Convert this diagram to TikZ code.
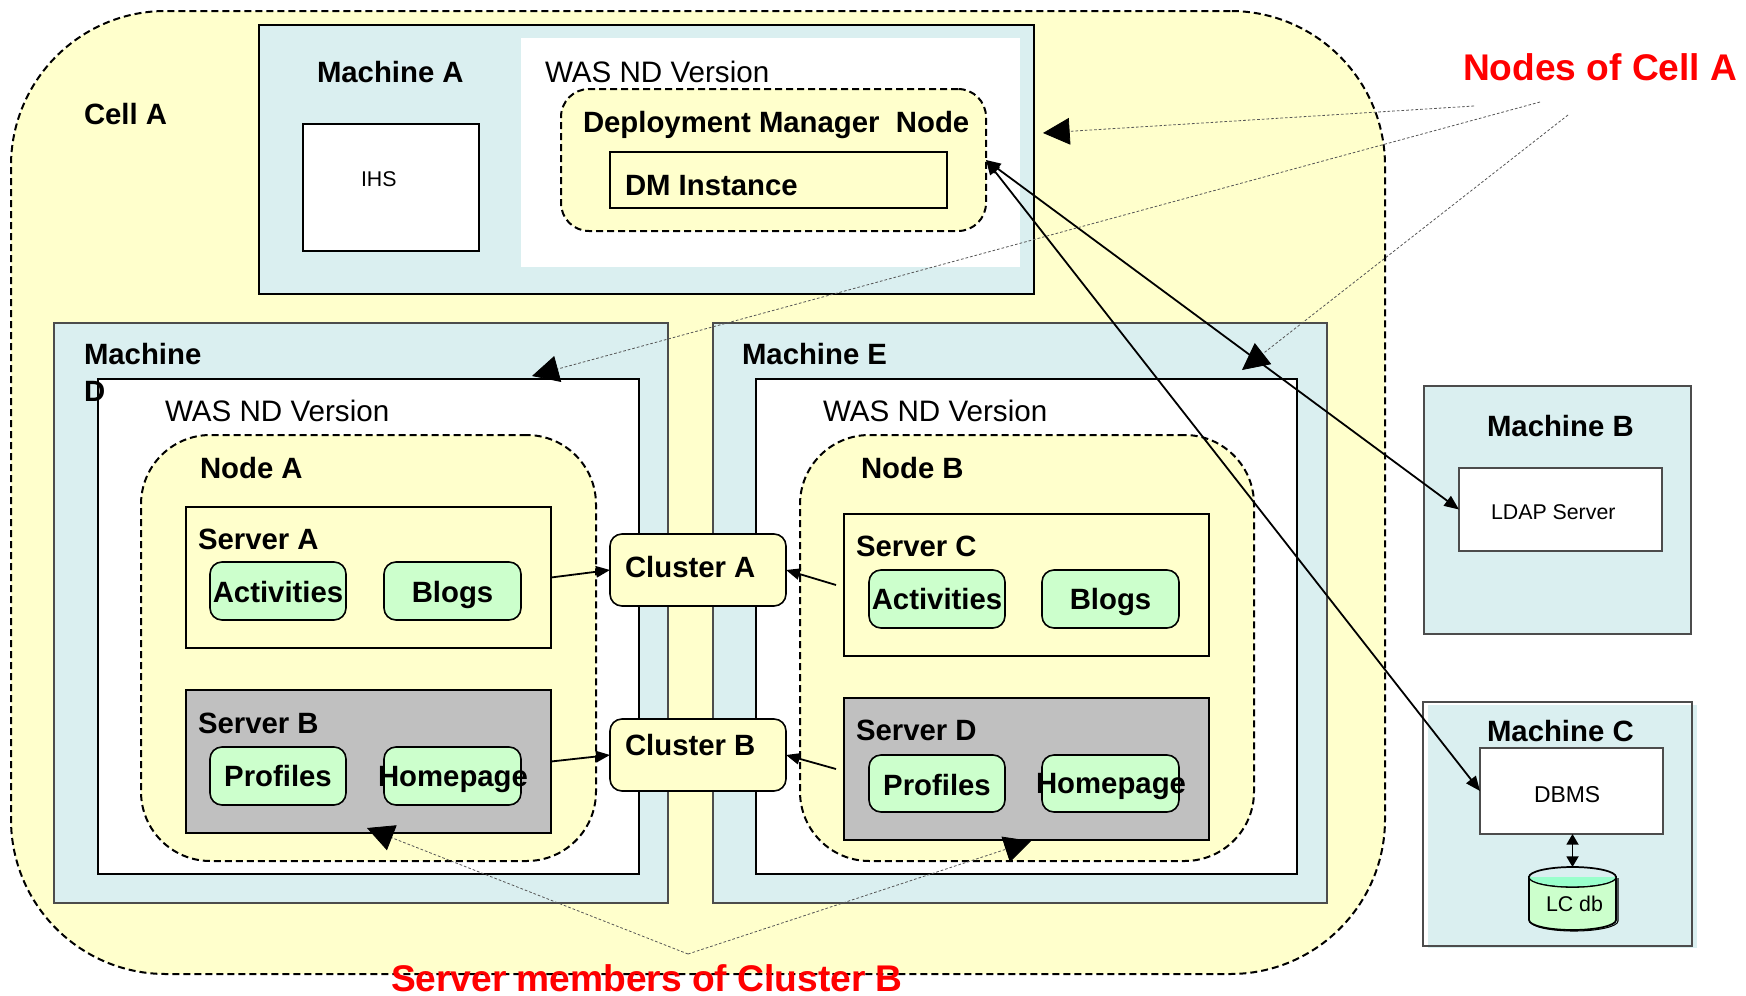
\documentclass[tikz,border=0pt]{standalone}
\usepackage{fontspec}
\setmainfont{Liberation Sans}
\usetikzlibrary{arrows.meta}
\definecolor{cellyellow}{HTML}{FFFFCC}
\definecolor{machblue}{HTML}{DAEFF0}
\definecolor{appgreen}{HTML}{CCFFCC}
\definecolor{srvgray}{HTML}{C0C0C0}
\definecolor{mint}{HTML}{99FFCC}
\definecolor{notegray}{HTML}{555555}
\tikzset{
  x=0.75pt,y=-0.75pt,
  boxbase/.style={rectangle,inner sep=0pt,outer sep=0pt},
  dashedarea/.style={boxbase,draw=black,fill=cellyellow,line width=1.5pt,dash pattern=on 5.25pt off 3pt},
  machthick/.style={boxbase,draw=black,fill=machblue,line width=2pt},
  machthin/.style={boxbase,draw=black!70,fill=machblue,line width=0.9pt},
  whitebox/.style={boxbase,draw=black,fill=white,line width=1.5pt},
  thinwhite/.style={boxbase,draw=black!70,fill=white,line width=0.9pt},
  serverbox/.style={boxbase,draw=black,fill=cellyellow,line width=1.5pt},
  grayserver/.style={boxbase,draw=black,fill=srvgray,line width=1.5pt},
  appbox/.style={boxbase,draw=black,fill=appgreen,line width=1.2pt,rounded corners=9pt,font=\boldtxt,text height=17.6pt,text depth=0pt},
  clusterbox/.style={boxbase,draw=black,fill=cellyellow,line width=1.2pt,rounded corners=9pt},
  bold/.style={anchor=base west,inner sep=0pt,outer sep=0pt,font=\boldtxt},
  plain/.style={anchor=base west,inner sep=0pt,outer sep=0pt,font=\regtxt},
  small/.style={anchor=base west,inner sep=0pt,outer sep=0pt,font=\smalltxt},
  redlabel/.style={anchor=base west,inner sep=0pt,outer sep=0pt,font=\redtxt,text=red},
  link/.style={draw=black,line width=1.35pt,-{Triangle[length=10.5pt,width=8.5pt]}},
  note/.style={draw=notegray,line width=0.6pt,dash pattern=on 2pt off 1.5pt,-{Triangle[length=20pt,width=20pt,color=black]}},
}
\newcommand{\boldtxt}{\fontsize{22}{27.6}\selectfont\bfseries}
\newcommand{\regtxt}{\fontsize{22.2}{27}\selectfont}
\newcommand{\smalltxt}{\fontsize{16}{20}\selectfont}
\newcommand{\redtxt}{\fontsize{27.85}{32}\selectfont\bfseries}
% \areabox{name}{x1}{y1}{x2}{y2}{style}{text}
\newcommand{\areabox}[7]{\node[#6,minimum width={(#4-#2)*0.75pt},minimum height={(#5-#3)*0.75pt}] (#1) at ({(#2+#4)/2},{(#3+#5)/2}) {#7};}
\begin{document}
\begin{tikzpicture}
\useasboundingbox (0,0) rectangle (1746,996);
\areabox{cell}{11}{11}{1385}{974}{dashedarea,rounded corners=116pt}{}
% Machine A
\areabox{machA}{259}{25}{1034}{294}{machthick}{}
\node[boxbase,fill=white,minimum width={499*0.75pt},minimum height={229*0.75pt}] (wasA) at (770.5,152.5) {};
\areabox{ihs}{303}{124}{479}{251}{whitebox}{}
\areabox{dep}{561}{89}{986}{231}{dashedarea,rounded corners=21pt}{}
\areabox{dmi}{610}{152}{947}{208}{serverbox}{}
% Machine D
\areabox{machD}{54}{323}{668}{903}{machthin}{}
\areabox{wasD}{98}{379}{639}{874}{whitebox}{}
\areabox{nodeA}{141}{435}{596}{861}{dashedarea,rounded corners=52pt}{}
\areabox{srvA}{186}{507}{551}{648}{serverbox}{}
\areabox{srvB}{186}{690}{551}{833}{grayserver}{}
\areabox{actA}{210}{562}{346}{620}{appbox}{Activities}
\areabox{blogA}{384}{562}{521}{620}{appbox}{Blogs}
\areabox{profB}{210}{747}{346}{805}{appbox,text height=16.4pt}{Profiles}
\areabox{homeB}{384}{747}{521}{805}{appbox}{}
% Machine E
\areabox{machE}{713}{323}{1327}{903}{machthin}{}
\areabox{wasE}{756}{379}{1297}{874}{whitebox}{}
\areabox{nodeB}{800}{435}{1254}{861}{dashedarea,rounded corners=52pt}{}
\areabox{srvC}{844}{514}{1209}{656}{serverbox}{}
\areabox{srvD}{844}{698}{1209}{840}{grayserver}{}
\areabox{actC}{869}{570}{1005}{628}{appbox,text height=16.4pt}{Activities}
\areabox{blogC}{1042}{570}{1179}{628}{appbox,text height=16.4pt}{Blogs}
\areabox{profD}{869}{755}{1005}{812}{appbox}{Profiles}
\areabox{homeD}{1042}{755}{1179}{812}{appbox}{}
% Clusters
\areabox{clA}{610}{534}{786}{606}{clusterbox}{}
\areabox{clB}{610}{719}{786}{791}{clusterbox}{}
% Machine B
\areabox{machB}{1424}{386}{1691}{634}{machthin}{}
\areabox{ldap}{1459}{468}{1662}{551}{thinwhite}{}
% Machine C
\fill[machblue] (1428,705) rectangle (1697,948);
\areabox{machC}{1423}{702}{1692}{946}{boxbase,draw=black!70,line width=0.9pt}{}
\areabox{dbms}{1480}{748}{1663}{834}{thinwhite}{}
% LC db cylinder
\draw[black,line width=0.8pt] (1530,878) -- (1530,921) arc[start angle=180,end angle=0,x radius=44,y radius=10] -- (1618,878);
\path[fill=appgreen,draw=black,line width=1.3pt] (1529,877) -- (1529,920) arc[start angle=180,end angle=0,x radius=43.5,y radius=10] -- (1616,877) -- cycle;
\path[fill=machblue,draw=black,line width=1.3pt] (1572.5,877) ellipse[x radius=43.5,y radius=10];
\begin{scope}
  \clip (1529,877) rectangle (1616,888);
  \path[fill=mint] (1572.5,877) ellipse[x radius=42.8,y radius=9.3];
\end{scope}
\node[boxbase,minimum width={87*0.75pt},minimum height={63*0.75pt}] (db) at (1572.5,898.5) {};
% Texts
\node[bold] (tCell) at (84,124) {Cell A};
\node[bold] (tMA) at (317,82) {Machine A};
\node[plain] (tWasA) at (545,82) {WAS ND Version};
\node[bold] (tDep) at (583,132) {Deployment Manager\ \ Node};
\node[bold] (tDmi) at (625,195) {DM Instance};
\node[small] (tIhs) at (361,186) {IHS};
\node[bold,anchor=north west,align=left] (tMD) at (84,343) {Machine\\D};
\node[bold] (tME) at (742,364) {Machine E};
\node[plain] (tWasD) at (165,421) {WAS ND Version};
\node[plain] (tWasE) at (823,421) {WAS ND Version};
\node[bold] (tNA) at (200,478) {Node A};
\node[bold] (tNB) at (861,478) {Node B};
\node[bold] (tSA) at (198,549) {Server A};
\node[bold] (tSB) at (198,733) {Server B};
\node[bold] (tSC) at (856,556) {Server C};
\node[bold] (tSD) at (856,740) {Server D};
\node[bold,anchor=base] (tHB) at (453,786) {Homepage};
\node[bold,anchor=base] (tHD) at (1111,793) {Homepage};
\node[bold] (tCA) at (625,577) {Cluster A};
\node[bold] (tCB) at (625,755) {Cluster B};
\node[bold] (tMB) at (1487,436) {Machine B};
\node[small] (tLdap) at (1491,519) {LDAP Server};
\node[bold] (tMC) at (1487,741) {Machine C};
\node[small,font=\fontsize{17.2}{20}\selectfont] (tDbms) at (1534,802) {DBMS};
\node[small] (tLc) at (1546,911) {LC db};
\node[redlabel] (tNodes) at (1463,80) {Nodes of Cell A};
\node[redlabel] (tMembers) at (391,991) {Server members of Cluster B};
% Connectors
\draw[link] (srvA.east) -- (clA.west);
\draw[link] (srvB.east) -- (clB.west);
\draw[link] ([xshift=-6pt]srvC.west) -- (clA.east);
\draw[link] ([xshift=-6pt]srvD.west) -- (clB.east);
\draw[link,{Triangle[length=11pt,width=9pt]}-{Triangle[length=11pt,width=9pt]}] (dep.east) -- (ldap.west);
\draw[link,{Triangle[length=11pt,width=9pt]}-{Triangle[length=11pt,width=9pt]}] (dep.east) -- (dbms.west);
\draw[link,{Triangle[length=8pt,width=9pt]}-{Triangle[length=8pt,width=9pt]}] (dbms.south -| db.north) -- (db.north);
% Notes
\coordinate (n1) at (1474,106);
\coordinate (n2) at (1540,102);
\coordinate (n3) at (1568,115);
\coordinate (t1) at (1043,133);
\coordinate (t2) at (532,376);
\coordinate (t3) at (1242,370);
\coordinate (apex) at (688,954);
\coordinate (t4) at (367,828);
\coordinate (t5) at (1031,841);
\draw[note] (n1) -- (t1);
\draw[note] (n2) -- (t2);
\draw[note] (n3) -- (t3);
\draw[note] (apex) -- (t4);
\draw[note] (apex) -- (t5);
\end{tikzpicture}
\end{document}
